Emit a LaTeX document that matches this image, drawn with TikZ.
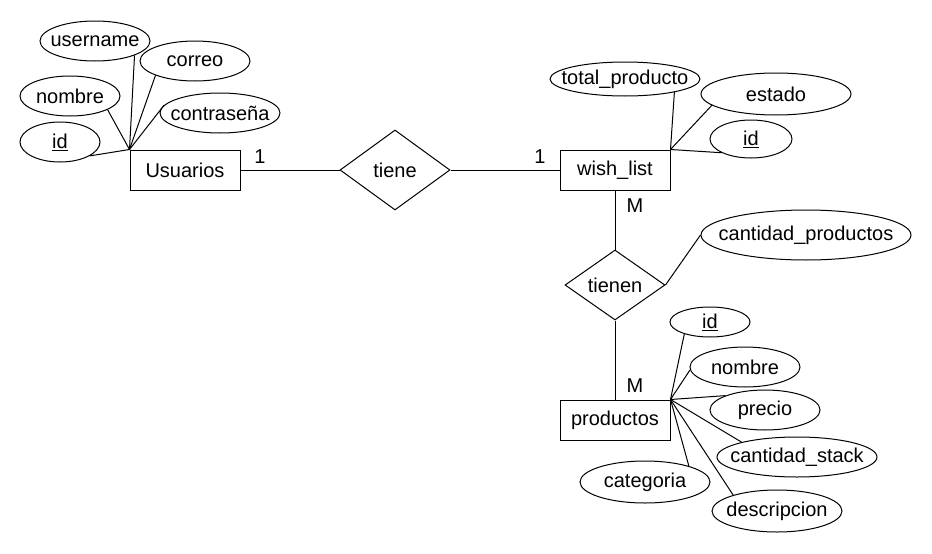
\documentclass[tikz,border=0pt]{standalone}
\usepackage{fontspec}
\setmainfont{Liberation Sans}
\usetikzlibrary{shapes.geometric}
\tikzset{
  entity/.style={draw, rectangle, minimum width=110pt, minimum height=40pt, inner sep=0pt},
  relation/.style={draw, diamond, inner sep=0pt},
  attr/.style={draw, ellipse, inner sep=0pt,
    execute at begin node={\hbox to 0pt\bgroup\hss},
    execute at end node={\hss\egroup}},
}
\begin{document}
\begin{tikzpicture}[x=1pt, y=-1pt, line width=1pt, font=\fontsize{20}{24}\selectfont]
	\useasboundingbox (0,0) rectangle (932,554);
	\node[entity] (usr) at (185,170) {Usuarios};
	\node[entity] (wl) at (615,170) {wish\_list};
	\node[entity] (prod) at (615,420) {productos};
	\node[relation, minimum width=110pt, minimum height=80pt] (tiene) at (395,170) {tiene};
	\node[relation, minimum width=100pt, minimum height=70pt] (tienen) at (615,285) {tienen};
	\node[attr, minimum width=110pt, minimum height=40pt] (u_username) at (95,41) {username};
	\node[attr, minimum width=110pt, minimum height=40pt] (u_correo) at (195,61) {correo};
	\node[attr, minimum width=100pt, minimum height=40pt] (u_nombre) at (70,96) {nombre};
	\node[attr, minimum width=120pt, minimum height=40pt] (u_pass) at (220,113) {contraseña};
	\node[attr, minimum width=80pt, minimum height=40pt] (u_id) at (60,142) {\underline{id}};
	\node[attr, minimum width=150pt, minimum height=34pt] (w_total) at (625,79) {total\_producto};
	\node[attr, minimum width=150pt, minimum height=42pt] (w_estado) at (776,94) {estado};
	\node[attr, minimum width=82pt, minimum height=38pt] (w_id) at (751,139) {\underline{id}};
	\node[attr, minimum width=210pt, minimum height=50pt] (t_cant) at (806,235) {cantidad\_productos};
	\node[attr, minimum width=80pt, minimum height=30pt] (p_id) at (710,322) {\underline{id}};
	\node[attr, minimum width=110pt, minimum height=40pt] (p_nombre) at (745,367) {nombre};
	\node[attr, minimum width=110pt, minimum height=40pt] (p_precio) at (765,410) {precio};
	\node[attr, minimum width=160pt, minimum height=40pt] (p_stack) at (797,457) {cantidad\_stack};
	\node[attr, minimum width=130pt, minimum height=42pt] (p_desc) at (777,511) {descripcion};
	\node[attr, minimum width=130pt, minimum height=42pt] (p_cat) at (645,482) {categoria};
	\node (c_usr) at (260,157) {1};
	\node (c_wl) at (540,157) {1};
	\node (c_wl_m) at (635,206) {M};
	\node (c_prod_m) at (635,386) {M};
	\draw (usr) -- (tiene);
	\draw (tiene) -- (wl);
	\draw (wl) -- (tienen);
	\draw (tienen) -- (prod);
	\draw (tienen.east) -- (t_cant.west);
	\draw (usr.north west) -- (u_username.-20);
	\draw (usr.north west) -- (u_correo.200);
	\draw (usr.north west) -- (u_nombre.-20);
	\draw (usr.north west) -- (u_pass.172);
	\draw (usr.north west) -- (u_id.-25);
	\draw (wl.north east) -- (w_total.-15);
	\draw (wl.north east) -- (w_estado.190);
	\draw (wl.north east) -- (w_id.205);
	\draw (prod.north east) -- (p_id.205);
	\draw (prod.north east) -- (p_nombre.183);
	\draw (prod.north east) -- (p_precio.160);
	\draw (prod.north east) -- (p_stack.165);
	\draw (prod.north east) -- (p_desc.160);
	\draw (prod.north east) -- (p_cat.20);
\end{tikzpicture}
\end{document}
